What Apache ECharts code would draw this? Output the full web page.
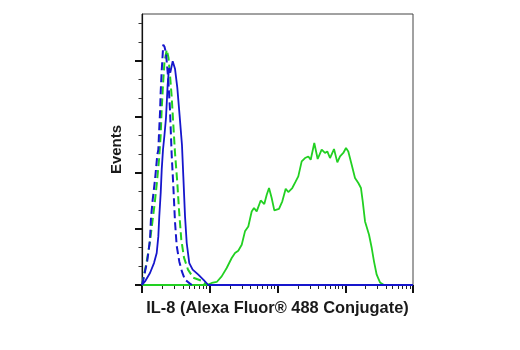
<!DOCTYPE html>
<html>
<head>
<meta charset="utf-8">
<script src="https://cdn.jsdelivr.net/npm/echarts@6/dist/echarts.min.js"></script>
<style>
html,body{margin:0;padding:0;background:#fff;}
#chart{width:520px;height:350px;}
</style>
</head>
<body>
<div id="chart"></div>
<script>
// x values are log10 decades of fluorescence intensity, y values are event counts
const xAxisTitle = 'IL-8 (Alexa Fluor® 488 Conjugate)';
const yAxisTitle = 'Events';
const xMajorTicks = [0, 1, 2, 3, 4];
const xMinorMultipliers = [2, 3, 4, 5, 6, 7, 8, 9];
const yMajorTicks = [0, 50, 100, 150, 200];
const yMinorTicks = [16.7, 33.3, 66.7, 83.3, 116.7, 133.3, 166.7, 183.3, 216.7, 233.3];

const blueSolid = [
  [0, 0], [0.044, 3.2], [0.118, 10.7], [0.177, 19.6], [0.217, 28.6], [0.241, 43.4],
  [0.255, 61.3], [0.276, 82.2], [0.291, 103.0], [0.310, 120.8], [0.332, 134.2],
  [0.354, 149.1], [0.379, 178.9], [0.399, 193.8], [0.418, 189.6], [0.453, 199.9],
  [0.487, 193.2], [0.521, 176.2], [0.554, 152.1], [0.590, 125.0], [0.610, 97.0],
  [0.635, 61.3], [0.660, 37.5], [0.698, 19.6], [0.748, 13.7], [0.831, 9.2],
  [0.905, 4.7], [0.979, 0], [4, 0]
];
const blueDashed = [
  [0, 0], [0.019, 4.7], [0.078, 21.7], [0.118, 40.5], [0.133, 60.1], [0.158, 76.2],
  [0.192, 94.0], [0.226, 116.4], [0.241, 120.8], [0.251, 135.1], [0.266, 153.9],
  [0.276, 172.6], [0.291, 191.4], [0.314, 214.6], [0.332, 212.8], [0.354, 207.2],
  [0.388, 183.3], [0.413, 156.5], [0.438, 116.4], [0.462, 88.7], [0.487, 56.5],
  [0.512, 35.1], [0.551, 20.8], [0.590, 11.9], [0.635, 4.7], [0.708, 1.2], [0.738, 0]
];
const greenDashed = [
  [0, 0], [0.022, 6.5], [0.069, 20.8], [0.111, 36.0], [0.148, 53.8], [0.185, 71.7],
  [0.221, 92.2], [0.251, 111.9], [0.276, 134.2], [0.290, 156.5], [0.310, 178.9],
  [0.332, 199.4], [0.365, 210.1], [0.391, 203.0], [0.413, 187.8], [0.438, 168.2],
  [0.465, 140.5], [0.487, 118.1], [0.521, 91.4], [0.546, 67.2], [0.580, 40.5],
  [0.620, 24.4], [0.679, 13.7], [0.757, 6.5], [0.881, 3.8], [0.955, 0]
];
const greenSolid = [
  [0, 0], [0.955, 0], [1.029, 1.8], [1.103, 2.7], [1.176, 7.7], [1.250, 15.2],
  [1.324, 24.1], [1.373, 28.6], [1.421, 30.6], [1.472, 36.0], [1.520, 47.9],
  [1.569, 52.3], [1.619, 65.7], [1.653, 68.8], [1.693, 65.7], [1.752, 75.5],
  [1.805, 72.3], [1.841, 80.6], [1.875, 86.6], [1.914, 77.7], [1.953, 66.6],
  [2.022, 67.9], [2.071, 74.7], [2.121, 86.0], [2.159, 83.0], [2.218, 86.6],
  [2.269, 92.5], [2.307, 97.0], [2.357, 110.4], [2.406, 113.4], [2.455, 114.8],
  [2.490, 111.9], [2.543, 126.8], [2.593, 112.5], [2.652, 120.8], [2.701, 117.9],
  [2.735, 119.3], [2.775, 113.4], [2.800, 112.8], [2.834, 121.4], [2.883, 109.5],
  [2.923, 114.8], [2.971, 117.9], [3.011, 122.3], [3.045, 119.3], [3.095, 107.4],
  [3.144, 95.6], [3.193, 91.1], [3.232, 86.6], [3.258, 74.7], [3.292, 56.8],
  [3.351, 44.9], [3.391, 33.0], [3.424, 21.1], [3.464, 9.2], [3.513, 2.3],
  [3.572, 0], [4, 0]
];

const BLUE = '#1616cc';
const GREEN = '#22d022';

const xMinorTicks = [];
for (let d = 0; d < 4; d++) {
  xMinorMultipliers.forEach(m => xMinorTicks.push(d + Math.log10(m)));
}

const chart = echarts.init(document.getElementById('chart'), null, {renderer: 'canvas'});
const fontFamily = '"Liberation Sans", Arial, sans-serif';
const yMax = 242;

chart.setOption({
  animation: false,
  grid: {left: 142, right: 107, top: 14, bottom: 65, show: true, borderColor: '#444', borderWidth: 1, backgroundColor: 'transparent'},
  xAxis: [
    {
      type: 'value', min: 0, max: 4, position: 'bottom',
      axisLine: {show: true, lineStyle: {color: '#111', width: 1.2}},
      axisTick: {show: true, customValues: xMajorTicks, length: 8, lineStyle: {color: '#111', width: 2}},
      axisLabel: {show: false},
      splitLine: {show: false},
      name: xAxisTitle, nameLocation: 'middle', nameGap: 15,
      nameTextStyle: {fontFamily: fontFamily, fontWeight: 'bold', fontSize: 16.4, color: '#1a1a1a'}
    },
    {
      type: 'value', min: 0, max: 4, position: 'bottom',
      axisLine: {show: false},
      axisTick: {show: true, customValues: xMinorTicks, length: 4, lineStyle: {color: '#222', width: 1}},
      axisLabel: {show: false},
      splitLine: {show: false}
    }
  ],
  yAxis: [
    {
      type: 'value', min: 0, max: yMax, position: 'left',
      axisLine: {show: true, lineStyle: {color: '#111', width: 1.2}},
      axisTick: {show: true, customValues: yMajorTicks, length: 7, lineStyle: {color: '#111', width: 2}},
      axisLabel: {show: false},
      splitLine: {show: false},
      name: yAxisTitle, nameLocation: 'middle', nameGap: 18, nameRotate: 90,
      nameTextStyle: {fontFamily: fontFamily, fontWeight: 'bold', fontSize: 15, color: '#1a1a1a'}
    },
    {
      type: 'value', min: 0, max: yMax, position: 'left',
      axisLine: {show: false},
      axisTick: {show: true, customValues: yMinorTicks, length: 3.5, lineStyle: {color: '#333', width: 1}},
      axisLabel: {show: false},
      splitLine: {show: false}
    }
  ],
  series: [
    {name: 'greenSolid', type: 'line', data: greenSolid, showSymbol: false, xAxisIndex: 0, yAxisIndex: 0,
     lineStyle: {color: GREEN, width: 1.8}},
    {name: 'greenDashed', type: 'line', data: greenDashed, showSymbol: false, xAxisIndex: 0, yAxisIndex: 0,
     lineStyle: {color: GREEN, width: 2, type: [8, 4]}},
    {name: 'blueDashed', type: 'line', data: blueDashed, showSymbol: false, xAxisIndex: 0, yAxisIndex: 0,
     lineStyle: {color: BLUE, width: 2, type: [8, 4]}},
    {name: 'blueSolid', type: 'line', data: blueSolid, showSymbol: false, xAxisIndex: 0, yAxisIndex: 0,
     lineStyle: {color: BLUE, width: 1.8}}
  ]
});
</script>
</body>
</html>
